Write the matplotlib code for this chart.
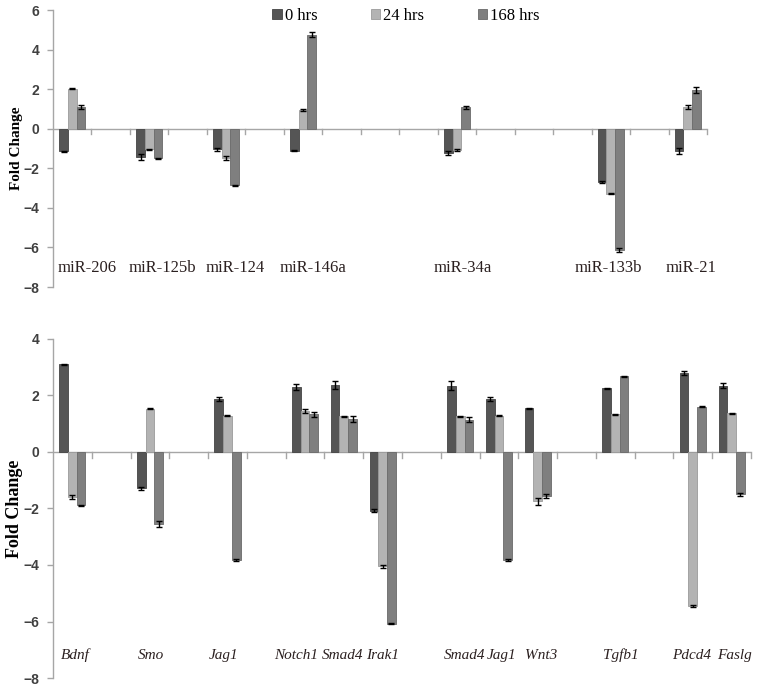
import matplotlib
matplotlib.use("Agg")
import matplotlib.pyplot as plt
import numpy as np

# ---------------- data ----------------
series = ["0 hrs", "24 hrs", "168 hrs"]

# top panel (miRNAs); category slots on a 17-slot axis
top_names = ["miR-206", "miR-125b", "miR-124", "miR-146a", "miR-34a", "miR-133b", "miR-21"]
top_slots = [0, 2, 4, 6, 10, 14, 16]
top_0 = [-1.15, -1.45, -1.05, -1.12, -1.25, -2.68, -1.12]
top_24 = [2.03, -1.05, -1.5, 0.95, -1.08, -3.28, 1.1]
top_168 = [1.1, -1.5, -2.85, 4.75, 1.08, -6.15, 1.95]
top_e0 = [0.03, 0.15, 0.1, 0.03, 0.1, 0.05, 0.15]
top_e24 = [0.03, 0.05, 0.1, 0.05, 0.03, 0.03, 0.12]
top_e168 = [0.12, 0.03, 0.03, 0.12, 0.08, 0.1, 0.15]
top_label_x = [0.9, 2.84, 4.73, 6.75, 10.64, 14.44, 16.59]

# bottom panel (genes); category slots on an 18-slot axis
bot_names = ["Bdnf", "Smo", "Jag1", "Notch1", "Smad4", "Irak1",
             "Smad4", "Jag1", "Wnt3", "Tgfb1", "Pdcd4", "Faslg"]
bot_slots = [0, 2, 4, 6, 7, 8, 10, 11, 12, 14, 16, 17]
bot_0 = [3.1, -1.28, 1.88, 2.3, 2.38, -2.08, 2.35, 1.88, 1.55, 2.25, 2.8, 2.35]
bot_24 = [-1.6, 1.53, 1.29, 1.45, 1.27, -4.05, 1.27, 1.28, -1.75, 1.33, -5.45, 1.37]
bot_168 = [-1.89, -2.55, -3.83, 1.33, 1.17, -6.08, 1.15, -3.83, -1.57, 2.68, 1.6, -1.5]
bot_e0 = [0.02, 0.05, 0.07, 0.12, 0.15, 0.05, 0.15, 0.06, 0.02, 0.02, 0.08, 0.1]
bot_e24 = [0.08, 0.02, 0.02, 0.07, 0.02, 0.05, 0.02, 0.02, 0.12, 0.02, 0.05, 0.02]
bot_e168 = [0.03, 0.1, 0.03, 0.1, 0.1, 0.02, 0.1, 0.03, 0.07, 0.02, 0.02, 0.05]
bot_label_x = [0.57, 2.52, 4.41, 6.26, 7.46, 8.5, 10.62, 11.58, 12.6, 14.64, 16.48, 17.58]

colors = ["#555555", "#b3b3b3", "#7f7f7f"]
edge = ["#444444", "#9a9a9a", "#6a6a6a"]
axis_col = "#a6a6a6"
tick_col = "#404040"

W, H = 759, 687
fig = plt.figure(figsize=(W / 100, H / 100), dpi=100)

def px_axes(x0, y0, x1, y1):
    return fig.add_axes([x0 / W, 1 - y1 / H, (x1 - x0) / W, (y1 - y0) / H])

ax1 = px_axes(53, 10, 707, 287)
ax2 = px_axes(53, 339, 751, 678)

bw = 0.225

def draw(ax, slots, vals, errs, ncat, ylim, names, label_x, label_y, italic,
         labsize, ylab_x):
    slots = np.asarray(slots, dtype=float)
    centers = slots + 0.5
    for k in range(3):
        x = centers + (k - 1) * bw
        ax.bar(x, vals[k], width=bw, color=colors[k], edgecolor=edge[k],
               linewidth=0.6, zorder=2, label=series[k])
        ax.errorbar(x, vals[k], yerr=errs[k], fmt="none", ecolor="black",
                    elinewidth=1.0, capsize=2.5, capthick=1.0, zorder=3)
    ax.set_xlim(0, ncat)
    ax.set_ylim(*ylim)
    for s in ["top", "right", "bottom"]:
        ax.spines[s].set_visible(False)
    ax.spines["left"].set_color(axis_col)
    ax.spines["left"].set_linewidth(1.0)
    ax.axhline(0, color=axis_col, linewidth=1.0, zorder=1)
    for t in range(1, ncat + 1):
        ax.plot([t, t], [0, -(ylim[1] - ylim[0]) * 0.018], color=axis_col,
                linewidth=1.0, zorder=1, clip_on=False)
    ax.set_xticks([])
    ax.set_yticks(np.arange(ylim[0], ylim[1] + 1, 2))
    ax.tick_params(axis="y", colors=axis_col, length=4, width=1.0, pad=6)
    for lab in ax.get_yticklabels():
        lab.set_color(tick_col)
        lab.set_fontweight("bold")
        lab.set_fontsize(10)
        lab.set_fontfamily("Liberation Sans")
    ax.set_ylabel("Fold Change", fontfamily="Liberation Serif", fontweight="bold",
                  fontsize=labsize, color="black")
    ax.yaxis.set_label_coords(ylab_x, 0.5)
    for nm, lx in zip(names, label_x):
        ax.text(lx, label_y, nm, ha="center", va="center",
                fontfamily="Liberation Serif", fontsize=12 if not italic else 11,
                fontstyle="italic" if italic else "normal", color="#2b2020")
    ax.set_facecolor("none")

draw(ax1, top_slots, [top_0, top_24, top_168], [top_e0, top_e24, top_e168],
     17, (-8, 6), top_names, top_label_x, -7.05, False, 11, -0.046)
draw(ax2, bot_slots, [bot_0, bot_24, bot_168], [bot_e0, bot_e24, bot_e168],
     18, (-8, 4), bot_names, bot_label_x, -7.2, True, 13, -0.043)

handles, labels = ax1.get_legend_handles_labels()
fig.legend(handles, labels, loc="center", bbox_to_anchor=(406 / W, 1 - 16 / H),
           ncol=3, frameon=False, handlelength=0.55, handleheight=0.55,
           handletextpad=0.2, columnspacing=3.2,
           prop={"family": "Liberation Serif", "size": 12})

fig.savefig("out.png", dpi=100)
